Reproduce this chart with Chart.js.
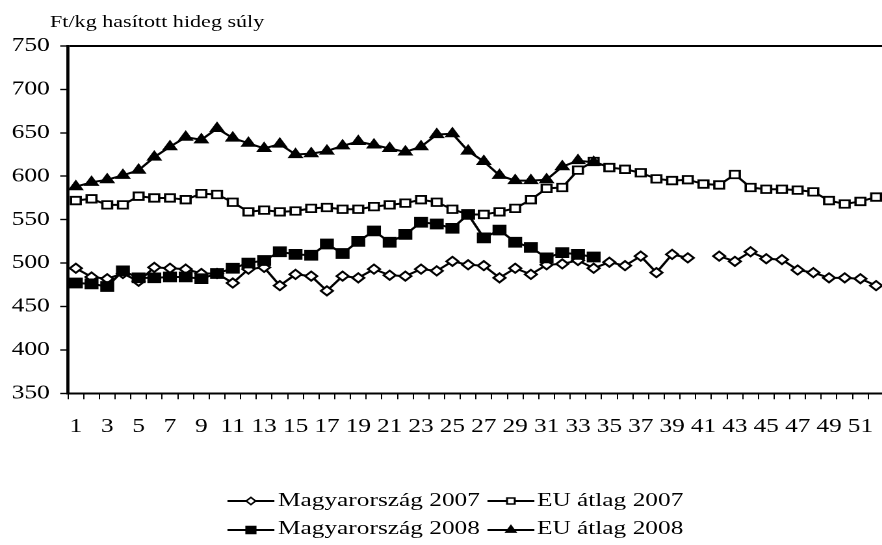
<!DOCTYPE html>
<html>
<head>
<meta charset="utf-8">
<script src="https://cdn.jsdelivr.net/npm/chart.js@4.4.1/dist/chart.umd.min.js"></script>
<style>
html, body { margin: 0; padding: 0; background: #fff; overflow: hidden; width: 882px; height: 545px; }
/* the original picture is stretched sideways, so the whole drawing is too */
#wrap { position: absolute; left: 0; top: 0; width: 690px; height: 545px; transform: scaleX(1.3); transform-origin: 0 0;
        font-family: "Liberation Serif", "Times New Roman", serif; color: #000; }
#chartBox { position: absolute; left: 0; top: 0; width: 690px; height: 450px; }
#unit { position: absolute; left: 38.5px; top: 13.3px; font-size: 17px; line-height: 1; white-space: nowrap; }
.legText { position: absolute; font-size: 19.5px; line-height: 1; white-space: nowrap; }
.legSym { position: absolute; }
</style>
</head>
<body>
<div id="wrap">
  <div id="chartBox"><canvas id="chart" width="690" height="450"></canvas></div>
  <div id="unit">Ft/kg hasított hideg súly</div>
  <div id="legend"></div>
</div>
<script>
// hetek (1-52)
const weeks = ['1','2','3','4','5','6','7','8','9','10','11','12','13','14','15','16','17','18','19','20',
  '21','22','23','24','25','26','27','28','29','30','31','32','33','34','35','36','37','38','39','40',
  '41','42','43','44','45','46','47','48','49','50','51','52'];
const xTickLabels = ['1','3','5','7','9','11','13','15','17','19','21','23','25','27','29','31','33','35',
  '37','39','41','43','45','47','49','51'];
const yTicks = [350, 400, 450, 500, 550, 600, 650, 700, 750];

const mg2007 = [494, 484, 482, 488, 479, 495, 494, 493, 488, 488,
  477, 493, 495, 474, 487, 485, 468, 485, 483, 493,
  486, 485, 493, 491, 502, 498, 497, 483, 494, 487,
  498, 499, 503, 494, 501, 497, 508, 489, 510, 506,
  null, 508, 502, 513, 505, 504, 492, 489, 483, 483, 482, 474];
const eu2007 = [572, 574, 567, 567, 577, 575, 575, 573, 580, 579,
  570, 559, 561, 559, 560, 563, 564, 562, 562, 565,
  567, 569, 573, 570, 562, 556, 556, 559, 563, 573,
  586, 587, 607, 617, 610, 608, 604, 597, 595, 596,
  591, 590, 602, 587, 585, 585, 584, 582, 572, 568, 571, 576];
const mg2008 = [477, 476, 473, 491, 483, 483, 484, 484, 482, 488,
  494, 500, 503, 513, 510, 509, 522, 511, 525, 537,
  524, 533, 547, 545, 540, 556, 529, 538, 524, 518,
  506, 512, 510, 507];
const eu2008 = [588, 593, 596, 601, 607, 622, 634, 645, 642, 655,
  644, 638, 632, 637, 625, 626, 629, 635, 640, 636,
  632, 628, 634, 648, 649, 629, 617, 601, 595, 595,
  596, 611, 618, 616];

const seriesNames = ['Magyarország 2007', 'EU átlag 2007', 'Magyarország 2008', 'EU átlag 2008'];

// marker styles per series
const styles = [
  { pointStyle: 'rectRot', radius: 4.6, fill: '#fff', legendRadius: 3.6 },
  { pointStyle: 'rect', radius: 5.3, fill: '#fff', legendRadius: 4.2 },
  { pointStyle: 'rect', radius: 6.3, fill: '#000', legendRadius: 5 },
  { pointStyle: 'triangle', radius: 5.3, fill: '#000', legendRadius: 4.2 }
];

function makeDataset(i, values) {
  const s = styles[i];
  return {
    label: seriesNames[i],
    data: values,
    borderColor: '#000',
    borderWidth: 2,
    pointStyle: s.pointStyle,
    pointRadius: s.radius,
    pointHoverRadius: s.radius,
    pointBackgroundColor: s.fill,
    pointBorderColor: '#000',
    pointBorderWidth: 1.8,
    tension: 0,
    spanGaps: false,
    order: 4 - i   // later series drawn on top, like in the original
  };
}

const font = { family: '"Liberation Serif", "Times New Roman", serif', size: 19.5 };

new Chart(document.getElementById('chart'), {
  type: 'line',
  data: {
    labels: weeks,
    datasets: [makeDataset(0, mg2007), makeDataset(1, eu2007), makeDataset(2, mg2008), makeDataset(3, eu2008)]
  },
  options: {
    responsive: false,
    devicePixelRatio: 2,
    animation: false,
    layout: { padding: { top: 46, left: 0, right: 3.7, bottom: 0 } },
    plugins: { legend: { display: false }, tooltip: { enabled: false } },
    scales: {
      x: {
        offset: true,
        border: { color: '#000', width: 2 },
        grid: { drawOnChartArea: false, tickLength: 6, tickColor: '#000', tickWidth: 1, offset: true },
        ticks: {
          autoSkip: false, maxRotation: 0, color: '#000', font: font, padding: 16,
          callback: function (val) {
            const lab = this.getLabelForValue(val);
            return xTickLabels.includes(lab) ? lab : '';
          }
        },
        afterFit: (scale) => { scale.height = 56.7; }
      },
      y: {
        min: yTicks[0],
        max: yTicks[yTicks.length - 1],
        border: { color: '#000', width: 2.4 },
        grid: {
          color: (c) => (c.tick && c.tick.value === yTicks[yTicks.length - 1]) ? '#000' : 'rgba(0,0,0,0)',
          lineWidth: 2, tickLength: 6, tickColor: '#000', tickWidth: 1.4
        },
        afterBuildTicks: (scale) => { scale.ticks = yTicks.map(v => ({ value: v })); },
        ticks: { color: '#000', font: font, padding: 8 },
        afterFit: (scale) => { scale.width = 52.3; }
      }
    }
  }
});

// legend (2 x 2), line with marker like in the original
function drawMarker(ctx, s, x, y) {
  const r = s.legendRadius;
  ctx.beginPath();
  if (s.pointStyle === 'rectRot') {
    ctx.moveTo(x, y - r); ctx.lineTo(x + r, y); ctx.lineTo(x, y + r); ctx.lineTo(x - r, y); ctx.closePath();
  } else if (s.pointStyle === 'rect') {
    const h = r * Math.SQRT1_2;
    ctx.rect(x - h, y - h, 2 * h, 2 * h);
  } else {
    ctx.moveTo(x, y - r); ctx.lineTo(x + r * 0.866, y + r * 0.5); ctx.lineTo(x - r * 0.866, y + r * 0.5); ctx.closePath();
  }
  ctx.fillStyle = s.fill; ctx.fill();
  ctx.lineWidth = 1.5; ctx.strokeStyle = '#000'; ctx.stroke();
}

const legendPos = [
  { sx: 175.4, lineY: 501, textTop: 489.7 },
  { sx: 374.6, lineY: 501, textTop: 489.7 },
  { sx: 175.4, lineY: 529.5, textTop: 518.2 },
  { sx: 374.6, lineY: 529.5, textTop: 518.2 }
];
const legend = document.getElementById('legend');
seriesNames.forEach((name, i) => {
  const p = legendPos[i];
  const cv = document.createElement('canvas');
  cv.width = 72; cv.height = 40;
  cv.style.width = '36px'; cv.style.height = '20px';
  cv.className = 'legSym';
  cv.style.left = p.sx + 'px'; cv.style.top = (p.lineY - 10) + 'px';
  const ctx = cv.getContext('2d');
  ctx.scale(2, 2);
  ctx.beginPath(); ctx.moveTo(0, 10); ctx.lineTo(36, 10);
  ctx.lineWidth = 2; ctx.strokeStyle = '#000'; ctx.stroke();
  drawMarker(ctx, styles[i], 18, 10);
  legend.appendChild(cv);
  const t = document.createElement('div');
  t.className = 'legText';
  t.textContent = name;
  t.style.left = (p.sx + 38.4) + 'px'; t.style.top = p.textTop + 'px';
  legend.appendChild(t);
});
</script>
</body>
</html>
